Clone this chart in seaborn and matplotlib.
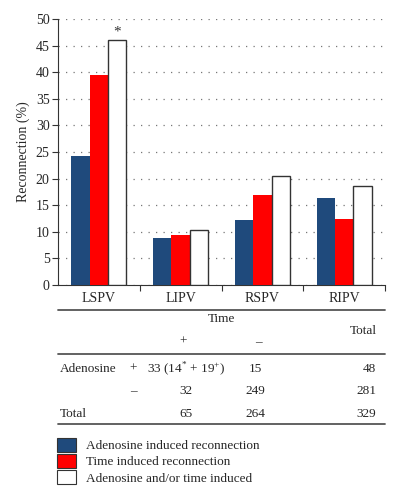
import numpy as np
import pandas as pd
import matplotlib
matplotlib.use("Agg")
import matplotlib.pyplot as plt
from matplotlib.lines import Line2D
import seaborn as sns

# data
veins = ["LSPV", "LIPV", "RSPV", "RIPV"]
adenosine = [24.3, 8.9, 12.2, 16.3]
time_ind = [39.4, 9.4, 16.9, 12.5]
either = [46.0, 10.3, 20.4, 18.7]
series = ["Adenosine induced reconnection", "Time induced reconnection",
          "Adenosine and/or time induced"]
colors = ["#1F4A7C", "#FF0000", "#FFFFFF"]

# 2x2 table under the chart
row_names = ["Adenosine", "", "Total"]
row_signs = ["+", "\u2013", ""]
col_plus = ["33 (14$^{*}$ + 19$^{+}$)", "32", "65"]
col_minus = ["15", "249", "264"]
col_total = ["48", "281", "329"]

df = pd.DataFrame({
    "vein": veins * 3,
    "value": adenosine + time_ind + either,
    "series": [s for s in series for _ in veins],
})

sns.set_style("white")
plt.rcParams["font.family"] = ["Liberation Serif", "DejaVu Serif"]
plt.rcParams["mathtext.fontset"] = "custom"
plt.rcParams["mathtext.rm"] = "Liberation Serif"

fig = plt.figure(figsize=(3.99, 5.0), dpi=100)
ax = fig.add_axes([58 / 399, 1 - 285 / 500, 327 / 399, 266 / 500])

sns.barplot(data=df, x="vein", y="value", hue="series", palette=colors,
            width=0.67, gap=0, saturation=1, ax=ax, zorder=3)

for i, p in enumerate(ax.patches[:12]):
    if i >= 8:
        p.set_edgecolor("#333333")
        p.set_linewidth(1.0)
    else:
        p.set_edgecolor("none")

ax.set_ylim(0, 50)
ax.set_xlim(-0.5, 3.5)
ax.set_yticks(np.arange(0, 51, 5))
ax.yaxis.grid(True, linestyle=(0, (1, 5)), color="#777777", linewidth=0.9)
ax.set_axisbelow(True)
for s in ["top", "right"]:
    ax.spines[s].set_visible(False)
ax.spines["left"].set_color("#333333")
ax.spines["bottom"].set_color("#333333")
ax.tick_params(axis="y", length=4, width=0.8, color="#333333", labelsize=10, pad=2, left=True)
ax.tick_params(axis="x", which="major", length=0, labelsize=10, pad=5)
ax.set_xticks([0.5, 1.5, 2.5, 3.5], minor=True)
ax.tick_params(axis="x", which="minor", length=4, width=0.8, color="#333333", bottom=True)
ax.set_xlabel("")
ax.set_ylabel("Reconnection (%)", fontsize=10, labelpad=4)

# asterisk over LSPV combined bar
ax.annotate("*", xy=(0.224, either[0]), xytext=(0, 1), textcoords="offset points",
            ha="center", va="bottom", fontsize=11, color="#333333")

handles, labels = ax.get_legend_handles_labels()
ax.legend_.remove()
fig.legend(handles, labels, loc="upper left", bbox_to_anchor=(57 / 399, 1 - 438 / 500),
           frameon=False, fontsize=9.5, handlelength=1.45, handleheight=1.2,
           labelspacing=0.15, handletextpad=0.75, borderpad=0, borderaxespad=0)
for h in fig.legends[0].legend_handles:
    h.set_edgecolor("#333333")
    h.set_linewidth(0.8)

# table
def fy(py):
    return 1 - py / 500

def fx(px):
    return px / 399

for py in [310, 354, 424]:
    fig.add_artist(Line2D([fx(58), fx(385)], [fy(py), fy(py)], color="#555555", linewidth=1.3))

tk = dict(fontsize=9.5, va="center")
fig.text(fx(222), fy(319), "Time", ha="center", **tk)
fig.text(fx(377), fy(331), "Total", ha="right", **tk)
fig.text(fx(183), fy(342), "+", ha="center", **tk)
fig.text(fx(258), fy(342), "\u2013", ha="center", **tk)
row_y = [369, 391, 414]
for j, y in enumerate(row_y):
    fig.text(fx(60), fy(y), row_names[j], ha="left", **tk)
    fig.text(fx(133), fy(y), row_signs[j], ha="center", **tk)
    fig.text(fx(186), fy(y), col_plus[j], ha="center", **tk)
    fig.text(fx(255), fy(y), col_minus[j], ha="center", **tk)
    fig.text(fx(376), fy(y), col_total[j], ha="right", **tk)

fig.savefig("out.png", dpi=100)
